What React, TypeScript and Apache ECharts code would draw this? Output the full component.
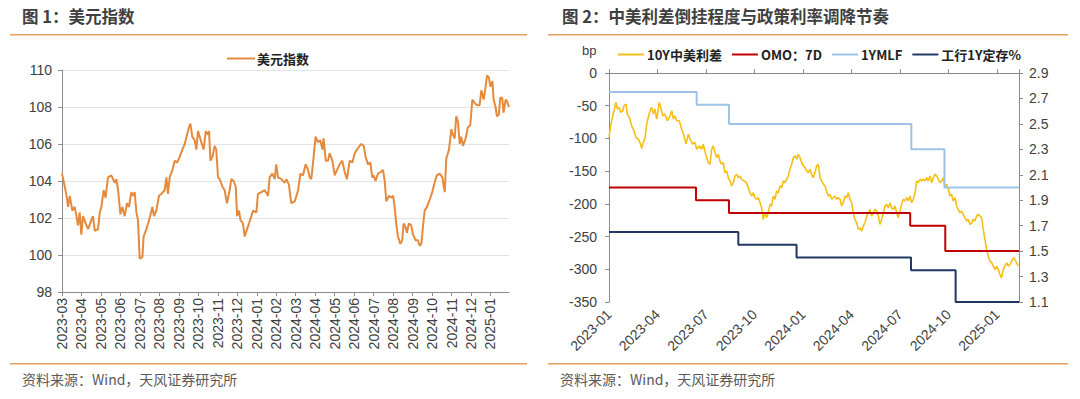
import React, { useEffect, useRef } from 'react';
import * as echarts from 'echarts';

// ---------- Data ----------
// x positions are month offsets from 2023-01 (0 = 2023-01-01)
const leftXLabels = [
  '2023-03', '2023-04', '2023-05', '2023-06', '2023-07', '2023-08', '2023-09', '2023-10', '2023-11', '2023-12',
  '2024-01', '2024-02', '2024-03', '2024-04', '2024-05', '2024-06', '2024-07', '2024-08', '2024-09', '2024-10',
  '2024-11', '2024-12', '2025-01',
];
const rightXLabels = ['2023-01', '2023-04', '2023-07', '2023-10', '2024-01', '2024-04', '2024-07', '2024-10', '2025-01'];

const dxy: [number, number][] = [
  [2.00, 104.4], [2.14, 103.7], [2.22, 103.3], [2.31, 102.6], [2.40, 103.2], [2.53, 102.4], [2.65, 102.6], [2.74, 102.1],
  [2.82, 101.6], [2.91, 102.3], [2.99, 101.1], [3.08, 102.1], [3.22, 101.7], [3.34, 101.4], [3.51, 101.9], [3.59, 102.1],
  [3.68, 101.3], [3.85, 101.4], [3.94, 102.3], [4.02, 102.6], [4.14, 103.5], [4.24, 103.1], [4.36, 104.2], [4.53, 104.3],
  [4.71, 103.9], [4.79, 104.1], [4.88, 103.5], [5.00, 102.2], [5.10, 102.6], [5.22, 102.1], [5.34, 102.8], [5.44, 102.6],
  [5.56, 103.4], [5.65, 103.2], [5.73, 103.4], [5.82, 102.3], [5.90, 101.9], [5.99, 99.8], [6.13, 99.9], [6.19, 101.0],
  [6.33, 101.4], [6.42, 101.7], [6.50, 102.0], [6.64, 102.6], [6.72, 102.1], [6.84, 102.4], [6.98, 103.2], [7.10, 103.3],
  [7.27, 103.5], [7.36, 104.2], [7.44, 103.3], [7.53, 104.2], [7.67, 104.6], [7.79, 105.1], [7.91, 105.0], [8.04, 105.3],
  [8.18, 105.7], [8.30, 106.0], [8.42, 106.5], [8.52, 106.9], [8.59, 107.1], [8.69, 106.4], [8.81, 106.2], [8.90, 105.7],
  [8.98, 106.7], [9.07, 106.4], [9.15, 106.1], [9.27, 105.7], [9.38, 106.7], [9.50, 106.5], [9.55, 106.7], [9.62, 105.1],
  [9.72, 105.3], [9.84, 105.9], [9.92, 105.7], [10.01, 104.2], [10.10, 104.1], [10.23, 103.7], [10.35, 103.5], [10.47, 102.8],
  [10.61, 103.5], [10.69, 104.1], [10.81, 104.0], [10.92, 103.7], [10.99, 102.1], [11.09, 102.4], [11.16, 101.9], [11.29, 101.7],
  [11.38, 101.0], [11.50, 101.4], [11.60, 101.7], [11.81, 102.4], [11.98, 102.3], [12.06, 103.3], [12.23, 103.4], [12.41, 103.5],
  [12.58, 103.2], [12.66, 104.2], [12.80, 104.4], [12.92, 104.1], [13.00, 104.9], [13.09, 104.2], [13.26, 104.1], [13.43, 103.9],
  [13.52, 104.1], [13.65, 103.8], [13.77, 102.8], [13.95, 102.9], [14.12, 103.5], [14.24, 104.4], [14.37, 104.3], [14.51, 104.9],
  [14.63, 104.6], [14.72, 104.2], [14.80, 104.1], [14.92, 105.3], [15.02, 106.4], [15.14, 106.1], [15.26, 106.2], [15.37, 105.7],
  [15.43, 106.3], [15.54, 105.1], [15.66, 105.1], [15.74, 105.5], [15.88, 105.1], [16.00, 104.3], [16.12, 104.6], [16.26, 104.9],
  [16.39, 105.1], [16.51, 104.5], [16.63, 104.1], [16.77, 105.1], [16.91, 105.0], [17.03, 105.5], [17.15, 105.7], [17.28, 105.9],
  [17.37, 106.0], [17.49, 105.9], [17.59, 105.3], [17.71, 104.9], [17.83, 105.0], [17.93, 104.2], [18.00, 104.3], [18.10, 104.0],
  [18.22, 104.4], [18.39, 104.5], [18.48, 104.6], [18.57, 104.0], [18.65, 102.9], [18.79, 103.2], [18.91, 103.1], [19.00, 103.2],
  [19.08, 102.6], [19.16, 101.7], [19.25, 101.0], [19.37, 100.6], [19.47, 100.8], [19.54, 101.7], [19.64, 101.5], [19.71, 101.2],
  [19.81, 101.7], [19.93, 101.6], [20.02, 101.1], [20.16, 100.8], [20.28, 100.8], [20.36, 100.5], [20.45, 100.6], [20.53, 101.5],
  [20.62, 102.4], [20.74, 102.6], [20.88, 103.0], [21.01, 103.4], [21.08, 103.7], [21.18, 104.1], [21.25, 104.3], [21.39, 104.4],
  [21.53, 104.2], [21.65, 103.4], [21.73, 105.2], [21.87, 105.7], [21.99, 106.8], [22.07, 106.5], [22.16, 106.3], [22.24, 107.5],
  [22.33, 107.2], [22.42, 106.0], [22.50, 106.4], [22.59, 105.9], [22.72, 106.3], [22.84, 106.9], [22.96, 107.0], [23.07, 108.4],
  [23.19, 108.2], [23.31, 108.1], [23.44, 108.1], [23.53, 108.9], [23.65, 108.4], [23.75, 109.1], [23.82, 109.7], [23.92, 109.6],
  [23.99, 109.1], [24.10, 109.4], [24.16, 108.4], [24.26, 108.0], [24.33, 107.5], [24.43, 107.6], [24.50, 108.5], [24.60, 108.5],
  [24.67, 107.7], [24.78, 108.4], [24.85, 108.3], [24.95, 108.0],
];

const spread10y: [number, number][] = [
  [0.00, -98.6], [0.10, -80.7], [0.23, -65.4], [0.31, -57.7], [0.43, -45], [0.52, -55], [0.64, -52.6], [0.72, -60],
  [0.85, -57.7], [0.93, -50], [1.05, -47.5], [1.13, -62.8], [1.26, -68], [1.40, -80.7], [1.55, -88.4], [1.67, -98.6],
  [1.81, -101], [1.96, -108.8], [2.02, -115.5], [2.12, -106], [2.23, -100], [2.33, -78], [2.43, -68], [2.54, -57.7],
  [2.64, -52.6], [2.74, -62.8], [2.84, -55], [2.95, -70.5], [3.05, -55], [3.11, -45], [3.20, -52.6], [3.32, -65.4],
  [3.46, -62.8], [3.61, -73], [3.77, -65.4], [3.88, -57.7], [3.98, -70.5], [4.08, -65.4], [4.18, -73], [4.35, -73],
  [4.49, -85.8], [4.64, -96], [4.76, -108.8], [4.91, -93.5], [5.01, -101], [5.17, -108.8], [5.32, -106], [5.42, -116.5],
  [5.59, -111.4], [5.73, -116.5], [5.83, -108.8], [6.00, -126.7], [6.14, -137], [6.25, -139.5], [6.35, -116.5], [6.45, -111.4],
  [6.56, -121.6], [6.66, -129.3], [6.76, -124.2], [6.86, -134.4], [6.97, -139.5], [7.07, -137], [7.17, -152.2], [7.28, -149.7],
  [7.38, -160], [7.48, -165], [7.59, -172.7], [7.69, -167.6], [7.79, -157.4], [7.90, -154.8], [8.00, -160], [8.10, -157.4],
  [8.20, -162.5], [8.35, -165], [8.51, -167.6], [8.68, -180.3], [8.82, -188], [8.93, -183], [9.03, -190.6], [9.13, -193],
  [9.24, -190.6], [9.34, -198.2], [9.44, -206], [9.54, -223.8], [9.65, -213.6], [9.75, -221.2], [9.85, -213.6], [9.96, -200.8],
  [10.06, -203.3], [10.16, -188], [10.27, -193], [10.37, -180.3], [10.47, -183], [10.58, -172.7], [10.68, -175.3], [10.78, -165],
  [10.88, -167.6], [10.99, -162.5], [11.09, -157.4], [11.19, -147.1], [11.30, -139.5], [11.40, -129.3], [11.50, -126.7], [11.61, -131.8],
  [11.71, -124.2], [11.81, -129.3], [11.92, -137], [12.02, -142], [12.12, -144.6], [12.22, -149.7], [12.33, -152.2], [12.43, -147.1],
  [12.53, -154.8], [12.64, -160], [12.74, -152.2], [12.84, -142], [12.95, -139.5], [13.05, -160], [13.15, -165], [13.26, -170],
  [13.36, -172.7], [13.46, -180.3], [13.56, -188], [13.67, -185.6], [13.77, -193], [13.87, -190.6], [13.98, -188], [14.08, -193],
  [14.18, -190.6], [14.29, -193], [14.39, -203.3], [14.49, -198.2], [14.60, -188], [14.70, -190.6], [14.80, -183], [14.90, -193],
  [15.01, -198.2], [15.11, -213.6], [15.21, -223.8], [15.32, -228.9], [15.42, -239], [15.52, -236.6], [15.63, -241.7], [15.73, -234],
  [15.83, -228.9], [15.94, -218.7], [16.04, -213.6], [16.14, -208.4], [16.24, -218.7], [16.35, -213.6], [16.45, -208.4], [16.55, -211],
  [16.66, -218.7], [16.76, -231.4], [16.86, -223.8], [16.97, -213.6], [17.07, -203.3], [17.17, -200.8], [17.28, -206], [17.38, -198.2],
  [17.48, -206], [17.59, -208.4], [17.69, -203.3], [17.79, -213.6], [17.89, -221.2], [18.00, -211], [18.10, -200.8], [18.20, -193],
  [18.31, -195.6], [18.41, -190.6], [18.51, -195.6], [18.62, -188], [18.72, -198.2], [18.82, -193], [18.93, -183], [19.03, -165],
  [19.13, -167.6], [19.24, -162.5], [19.34, -165], [19.44, -162.5], [19.55, -165], [19.65, -160], [19.75, -165], [19.85, -157.4],
  [19.96, -167.6], [20.06, -160], [20.16, -154.8], [20.27, -157.4], [20.37, -162.5], [20.47, -167.6], [20.58, -165], [20.68, -160],
  [20.78, -172.7], [20.88, -170], [20.99, -178], [21.09, -188], [21.19, -185.6], [21.29, -195.6], [21.40, -190.6], [21.50, -203.3],
  [21.60, -208.4], [21.71, -213.6], [21.81, -211], [21.91, -216], [22.02, -221.2], [22.12, -226.3], [22.22, -223.8], [22.33, -231.4],
  [22.43, -228.9], [22.53, -223.8], [22.63, -226.3], [22.74, -218.7], [22.84, -216], [22.94, -218.7], [23.05, -221.2], [23.15, -239],
  [23.25, -254.4], [23.36, -269.7], [23.46, -280], [23.57, -287.6], [23.67, -290.2], [23.77, -295.3], [23.88, -300.4], [23.98, -295.3],
  [24.08, -300.4], [24.18, -308], [24.28, -313.2], [24.39, -300.4], [24.49, -295.3], [24.60, -290.2], [24.70, -295.3], [24.80, -292.7],
  [24.90, -287.6], [25.01, -282.5], [25.11, -285], [25.21, -290.2], [25.32, -295.3],
];

const omo7d: [number, number][] = [[0, 2.0], [5.38, 1.9], [7.42, 1.8], [18.63, 1.7], [20.8, 1.5], [25.36, 1.5]];
const mlf1y: [number, number][] = [[0, 2.75], [5.42, 2.65], [7.42, 2.5], [18.7, 2.3], [20.75, 2.0], [25.36, 2.0]];
const icbcDeposit1y: [number, number][] = [[0, 1.65], [8.0, 1.55], [11.6, 1.45], [18.68, 1.35], [21.44, 1.1], [25.36, 1.1]];

const LEFT_X_MIN = 2;
const LEFT_X_MAX = 24.95;
const RIGHT_X_MAX = 25.36;

// ---------- Styles ----------
const ORANGE = '#E58A3C';
const RULE = '#E3A05E';
const AXIS = '#8C8C8C';
const LABEL = '#404040';
const NUM_FONT = '"Liberation Sans", Arial, sans-serif';
const CJK_FONT = '"Noto Sans CJK SC", "Noto Sans", sans-serif';

export default function App() {
  const ref = useRef<HTMLDivElement>(null);

  useEffect(() => {
    if (!ref.current) return;
    const chart = echarts.init(ref.current, undefined, { renderer: 'svg' });

    const leftFmt = (v: number) => {
      const i = Math.round(v - LEFT_X_MIN);
      if (Math.abs(v - LEFT_X_MIN - i) > 1e-6) return '';
      return leftXLabels[i] ?? '';
    };
    const rightFmt = (v: number) => {
      const i = Math.round(v / 3);
      if (Math.abs(v / 3 - i) > 1e-6) return '';
      return rightXLabels[i] ?? '';
    };

    const option: any = {
      animation: false,
      textStyle: { fontFamily: NUM_FONT },
      graphic: [
        { type: 'text', left: 22, top: 8, style: { text: '图 1：美元指数', font: `bold 16.5px ${CJK_FONT}`, fill: '#404040' } },
        { type: 'text', left: 562, top: 8, style: { text: '图 2：中美利差倒挂程度与政策利率调降节奏', font: `bold 16.5px ${CJK_FONT}`, fill: '#404040' } },
        { type: 'rect', shape: { x: 10, y: 34, width: 517, height: 1.5 }, style: { fill: RULE } },
        { type: 'rect', shape: { x: 548, y: 34, width: 520, height: 1.5 }, style: { fill: RULE } },
        { type: 'rect', shape: { x: 10, y: 363, width: 517, height: 1.5 }, style: { fill: RULE } },
        { type: 'rect', shape: { x: 548, y: 363, width: 520, height: 1.5 }, style: { fill: RULE } },
        { type: 'text', left: 22, top: 372, style: { text: '资料来源：Wind，天风证券研究所', font: `14px ${CJK_FONT}`, fill: '#595959' } },
        { type: 'text', left: 560, top: 372, style: { text: '资料来源：Wind，天风证券研究所', font: `14px ${CJK_FONT}`, fill: '#595959' } },
        { type: 'text', left: 582, top: 44, style: { text: 'bp', font: `13px ${NUM_FONT}`, fill: '#404040' } },
      ],
      legend: [
        {
          data: ['美元指数'], left: 222, top: 47, icon: 'rect', itemWidth: 28, itemHeight: 2, itemGap: 10,
          textStyle: { fontSize: 13, fontWeight: 'bold', color: '#222', fontFamily: CJK_FONT, padding: [0, 0, 0, -3] },
        },
        {
          data: ['10Y中美利差', 'OMO：7D', '1YMLF', '工行1Y定存%'], left: 613, top: 43, icon: 'rect',
          itemWidth: 26, itemHeight: 2, itemGap: 10,
          textStyle: { fontSize: 13, fontWeight: 'bold', color: '#222', fontFamily: CJK_FONT, padding: [0, 0, 0, -2] },
        },
      ],
      grid: [
        { left: 62, top: 70, width: 447, height: 222 },
        { left: 609, top: 73, width: 410, height: 229 },
      ],
      xAxis: [
        {
          gridIndex: 0, type: 'value', min: LEFT_X_MIN, max: LEFT_X_MAX, interval: 1,
          axisLine: { show: true, onZero: false, lineStyle: { color: AXIS } },
          axisTick: { show: true, length: 4, lineStyle: { color: AXIS } },
          axisLabel: { rotate: 90, formatter: leftFmt, fontSize: 14, color: LABEL, margin: 6, showMaxLabel: false, fontFamily: NUM_FONT },
          splitLine: { show: false },
        },
        {
          gridIndex: 1, type: 'value', min: 0, max: RIGHT_X_MAX, interval: 3, position: 'bottom',
          axisLine: { show: false, onZero: false }, axisTick: { show: false },
          axisLabel: { rotate: 45, formatter: rightFmt, fontSize: 14, color: LABEL, margin: 10, showMaxLabel: false, fontFamily: NUM_FONT },
          splitLine: { show: false },
        },
        {
          gridIndex: 1, type: 'value', min: 0, max: RIGHT_X_MAX, interval: 3, position: 'top',
          axisLine: { show: true, onZero: false, lineStyle: { color: AXIS } },
          axisTick: { show: true, length: 4, lineStyle: { color: AXIS } },
          axisLabel: { show: false }, splitLine: { show: false },
        },
      ],
      yAxis: [
        {
          gridIndex: 0, type: 'value', min: 98, max: 110, interval: 2,
          axisLine: { show: true, onZero: false, lineStyle: { color: AXIS } },
          axisTick: { show: true, length: 4, lineStyle: { color: AXIS } },
          axisLabel: { fontSize: 14, color: LABEL, margin: 10, fontFamily: NUM_FONT },
          splitLine: { show: true, lineStyle: { color: '#E3E3E3' } },
        },
        {
          gridIndex: 1, type: 'value', min: -350, max: 0, interval: 50, position: 'left',
          axisLine: { show: true, onZero: false, lineStyle: { color: AXIS } },
          axisTick: { show: true, length: 4, lineStyle: { color: AXIS } },
          axisLabel: { fontSize: 14, color: LABEL, margin: 12, fontFamily: NUM_FONT },
          splitLine: { show: false },
        },
        {
          gridIndex: 1, type: 'value', min: 1.1, max: 2.9, interval: 0.2, position: 'right',
          axisLine: { show: true, onZero: false, lineStyle: { color: AXIS } },
          axisTick: { show: true, length: 4, lineStyle: { color: AXIS } },
          axisLabel: { fontSize: 14, color: LABEL, margin: 10, fontFamily: NUM_FONT, formatter: (v: number) => v.toFixed(1) },
          splitLine: { show: false },
        },
      ],
      series: [
        {
          name: '美元指数', type: 'line', xAxisIndex: 0, yAxisIndex: 0, data: dxy, symbol: 'none',
          lineStyle: { color: ORANGE, width: 2 }, itemStyle: { color: ORANGE },
        },
        {
          name: '10Y中美利差', type: 'line', xAxisIndex: 1, yAxisIndex: 1, data: spread10y, symbol: 'none',
          lineStyle: { color: '#F7BE16', width: 1.6 }, itemStyle: { color: '#F7BE16' }, z: 3,
        },
        {
          name: 'OMO：7D', type: 'line', xAxisIndex: 1, yAxisIndex: 2, data: omo7d, symbol: 'none', step: 'end',
          lineStyle: { color: '#C00000', width: 2 }, itemStyle: { color: '#C00000' }, clip: false,
        },
        {
          name: '1YMLF', type: 'line', xAxisIndex: 1, yAxisIndex: 2, data: mlf1y, symbol: 'none', step: 'end',
          lineStyle: { color: '#9DC3E6', width: 2 }, itemStyle: { color: '#9DC3E6' }, clip: false,
        },
        {
          name: '工行1Y定存%', type: 'line', xAxisIndex: 1, yAxisIndex: 2, data: icbcDeposit1y, symbol: 'none', step: 'end',
          lineStyle: { color: '#1F3864', width: 2 }, itemStyle: { color: '#1F3864' }, clip: false,
        },
      ],
    };

    chart.setOption(option);
    return () => chart.dispose();
  }, []);

  return (
    <div
      ref={ref}
      style={{ position: 'absolute', left: 0, top: 0, width: 1080, height: 399, background: '#fff' }}
    />
  );
}
